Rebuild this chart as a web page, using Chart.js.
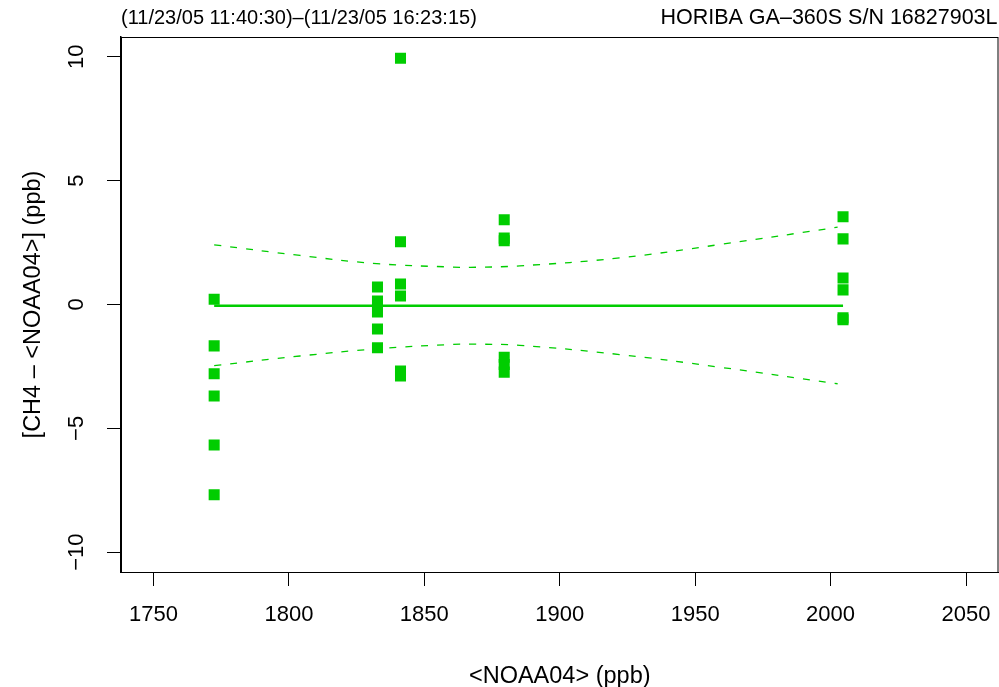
<!DOCTYPE html>
<html><head><meta charset="utf-8">
<script src="https://cdn.jsdelivr.net/npm/chart.js@4/dist/chart.umd.min.js"></script>
<style>html,body{margin:0;padding:0;background:#fff}</style>
</head><body>
<canvas id="c" width="999" height="687" style="display:block;width:999px;height:687px"></canvas>
<script>
// ---- data ----
const headerLeft = '(11/23/05 11:40:30)–(11/23/05 16:23:15)';
const headerRight = 'HORIBA GA–360S S/N 16827903L';
const xTitle = '<NOAA04> (ppb)';
const yTitle = '[CH4 – <NOAA04>] (ppb)';
const xTicks = [1750, 1800, 1850, 1900, 1950, 2000, 2050];
const xTickLabels = ['1750', '1800', '1850', '1900', '1950', '2000', '2050'];
const yTicks = [-10, -5, 0, 5, 10];
const yTickLabels = ['−10', '−5', '0', '5', '10'];

// observations: NOAA04 level and CH4 - NOAA04 difference
const obsNOAA = [
  1772.4, 1772.4, 1772.4, 1772.4, 1772.4, 1772.4,
  1832.7, 1832.7, 1832.7, 1832.7, 1832.7,
  1841.2, 1841.2, 1841.2, 1841.2, 1841.2, 1841.2,
  1879.5, 1879.5, 1879.5, 1879.5, 1879.5, 1879.5,
  2004.6, 2004.6, 2004.6, 2004.6, 2004.6, 2004.6
];
const obsDiff = [
  0.21, -1.67, -2.80, -3.69, -5.67, -7.68,
  0.71, 0.14, -0.30, -0.99, -1.75,
  9.94, 2.53, 0.83, 0.34, -2.69, -2.89,
  3.42, 2.68, 2.57, -2.13, -2.42, -2.73,
  3.54, 2.65, 1.07, 0.59, -0.54, -0.62
];

// fitted line
const fitNOAA = [1772.4, 2004.6];
const fitDiff = [-0.05, -0.05];

// confidence band (read at several positions)
const bandNOAA  = [1772.4, 1804.1, 1832.4, 1860.5, 1867.0, 1885.2, 1922.1, 1959.0, 2002.6];
const bandUpper = [2.41, 1.98, 1.65, 1.51, 1.50, 1.56, 1.88, 2.42, 3.12];
const bandLower = [-2.47, -2.08, -1.79, -1.61, -1.60, -1.65, -2.02, -2.53, -3.20];

// ---- chart ----
const GREEN = '#00CD00';
const FONT = 'Liberation Sans, Arial, Helvetica, sans-serif';
const pts = (xs, ys) => xs.map((x, i) => ({x: x, y: ys[i]}));

const boxPlugin = {
  id: 'box',
  afterDraw(chart) {
    const {ctx, chartArea: a} = chart;
    ctx.save();
    ctx.strokeStyle = '#000';
    ctx.lineWidth = 1;
    ctx.strokeRect(a.left + 0.5, a.top + 0.5, a.right - a.left - 1, a.bottom - a.top);
    ctx.fillStyle = '#000';
    ctx.font = '20px ' + FONT;
    ctx.textBaseline = 'middle';
    ctx.textAlign = 'left';
    ctx.fillText(headerLeft, a.left, 18);
    ctx.font = '21.5px ' + FONT;
    ctx.textAlign = 'right';
    ctx.fillText(headerRight, a.right - 1, 18);
    ctx.restore();
  }
};

new Chart(document.getElementById('c'), {
  type: 'scatter',
  data: {
    datasets: [
      {data: pts(bandNOAA, bandUpper), showLine: true, borderColor: GREEN, borderWidth: 1.3,
       borderDash: [7, 9], pointRadius: 0, tension: 0.4, fill: false},
      {data: pts(bandNOAA, bandLower), showLine: true, borderColor: GREEN, borderWidth: 1.3,
       borderDash: [7, 9], pointRadius: 0, tension: 0.4, fill: false},
      {data: pts(fitNOAA, fitDiff), showLine: true, borderColor: GREEN, borderWidth: 2.3,
       pointRadius: 0, fill: false},
      {data: pts(obsNOAA, obsDiff), showLine: false, pointStyle: 'rect', pointRadius: 7.8,
       backgroundColor: GREEN, borderWidth: 0}
    ]
  },
  options: {
    responsive: false, animation: false, devicePixelRatio: 1,
    layout: {autoPadding: false, padding: {top: 37, right: 0.5, left: 0, bottom: 0}},
    plugins: {legend: {display: false}, tooltip: {enabled: false}, title: {display: false}},
    scales: {
      x: {
        type: 'linear', min: 1738, max: 2062,
        afterBuildTicks: s => { s.ticks = xTicks.map(v => ({value: v})); },
        afterFit: s => { s.height = 115; s.paddingLeft = 0; s.paddingRight = 0; },
        grid: {display: true, drawOnChartArea: false, drawTicks: true, tickLength: 14, tickColor: '#000', tickWidth: 1},
        border: {display: true, color: '#000', width: 1},
        ticks: {color: '#000', font: {family: FONT, size: 22}, padding: 16, maxRotation: 0, minRotation: 0,
                callback: v => xTickLabels[xTicks.indexOf(v)]},
        title: {display: true, text: xTitle, color: '#000', font: {family: FONT, size: 23.5, lineHeight: 0.9}, padding: {top: 0, bottom: 0}}
      },
      y: {
        type: 'linear', min: -10.8, max: 10.8,
        afterBuildTicks: s => { s.ticks = yTicks.map(v => ({value: v})); },
        afterFit: s => { s.width = 121; s.paddingTop = 0; s.paddingBottom = 0; },
        grid: {display: true, drawOnChartArea: false, drawTicks: true, tickLength: 14, tickColor: '#000', tickWidth: 1},
        border: {display: true, color: '#000', width: 1.5},
        ticks: {color: '#000', font: {family: FONT, size: 22}, padding: 11, minRotation: 90, maxRotation: 90,
                crossAlign: 'center', callback: v => yTickLabels[yTicks.indexOf(v)]},
        title: {display: true, text: yTitle, color: '#000', font: {family: FONT, size: 23.5}, padding: {top: 19, bottom: 0}}
      }
    }
  },
  plugins: [boxPlugin]
});
</script>
</body></html>
